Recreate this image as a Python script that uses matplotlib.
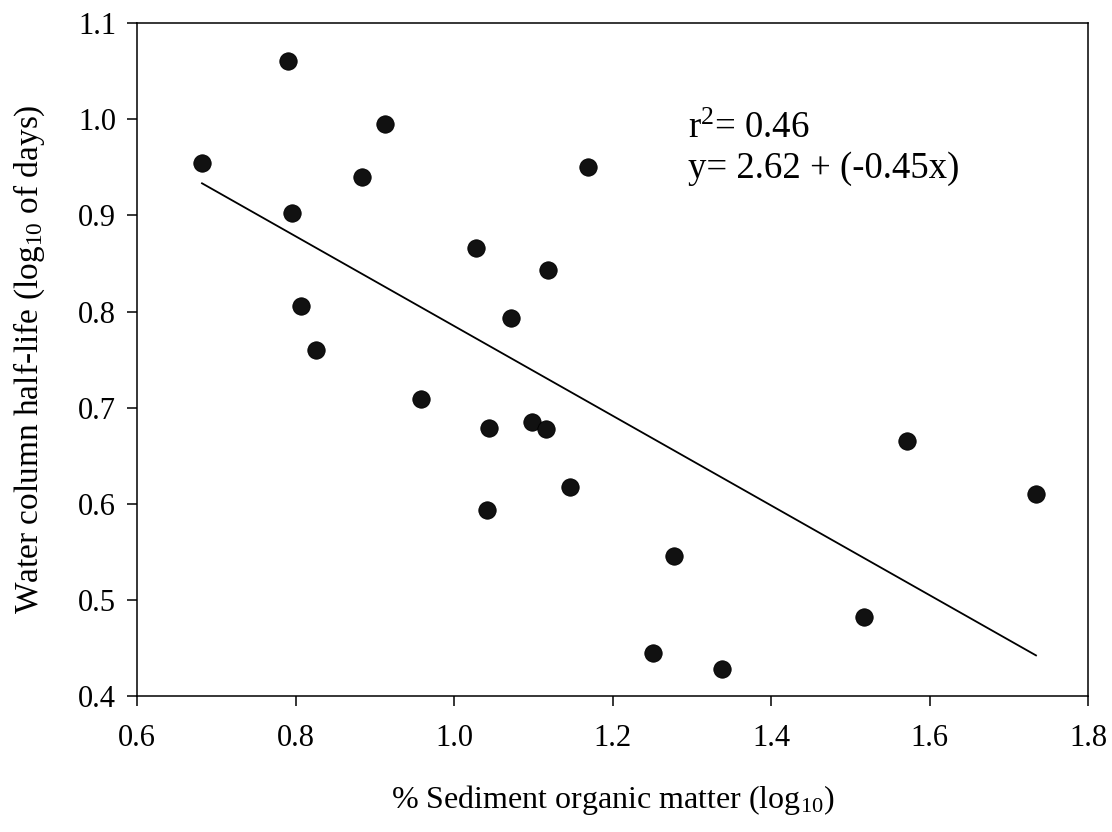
import numpy as np
import matplotlib as mpl
mpl.use("Agg")
import matplotlib.pyplot as plt

# ── Style: scanned-paper look, Times-like serif ───────────────────────────────
mpl.rcParams.update({
    "font.family": "serif",
    "font.serif": ["Liberation Serif", "DejaVu Serif"],
    "mathtext.fontset": "custom",
    "mathtext.rm": "Liberation Serif",
    "mathtext.it": "Liberation Serif:italic",
    "axes.linewidth": 1.1,
    "xtick.direction": "out",
    "ytick.direction": "out",
})

# ── Data ──────────────────────────────────────────────────────────────────────
organic_matter = [0.682, 0.790, 0.796, 0.807, 0.826, 0.913, 0.884, 0.958,
                  1.027, 1.072, 1.044, 1.098, 1.116, 1.146, 1.042, 1.119,
                  1.169, 1.277, 1.251, 1.338, 1.517, 1.571, 1.734]
half_life = [0.955, 1.061, 0.903, 0.806, 0.760, 0.995, 0.940, 0.709,
             0.866, 0.793, 0.679, 0.685, 0.678, 0.617, 0.594, 0.843,
             0.950, 0.546, 0.445, 0.428, 0.482, 0.665, 0.610]

# regression line as drawn in the figure
fit_intercept = 1.252
fit_slope = -0.467

x_ticks = [0.6, 0.8, 1.0, 1.2, 1.4, 1.6, 1.8]
y_ticks = [0.4, 0.5, 0.6, 0.7, 0.8, 0.9, 1.0, 1.1]

fig = plt.figure(figsize=(11.12, 8.32), dpi=100)
ax = fig.add_axes([0.1232, 0.1635, 0.8555, 0.8085])

ax.plot(organic_matter, half_life, "o", ms=12.5, color="#111111",
        markeredgecolor="#000000", markeredgewidth=0.6, zorder=3)

x_line = np.array([min(organic_matter), max(organic_matter)])
ax.plot(x_line, fit_intercept + fit_slope * x_line, "-", color="black",
        lw=1.3, zorder=2)

ax.set_xlim(0.6, 1.8)
ax.set_ylim(0.4, 1.1)
ax.set_xticks(x_ticks)
ax.set_yticks(y_ticks)
ax.set_xticklabels([f"{v:.1f}" for v in x_ticks])
ax.set_yticklabels([f"{v:.1f}" for v in y_ticks])
ax.tick_params(axis="both", labelsize=22, length=7, width=1.1, color="black")
ax.tick_params(axis="x", pad=13)
ax.tick_params(axis="y", pad=8)

ax.set_xlabel(r"% Sediment organic matter (log$_{\mathregular{10}}$)",
              fontsize=23, labelpad=22)
ax.set_ylabel(r"Water column half-life (log$_{\mathregular{10}}$ of days)",
              fontsize=24, labelpad=22)

ax.text(1.295, 0.981, r"r$^{\mathregular{2}}$= 0.46", fontsize=26.5,
        ha="left", va="baseline")
ax.text(1.295, 0.939, "y= 2.62 + (-0.45x)", fontsize=26.5,
        ha="left", va="baseline")

fig.savefig("out.png", dpi=100, facecolor="white")
